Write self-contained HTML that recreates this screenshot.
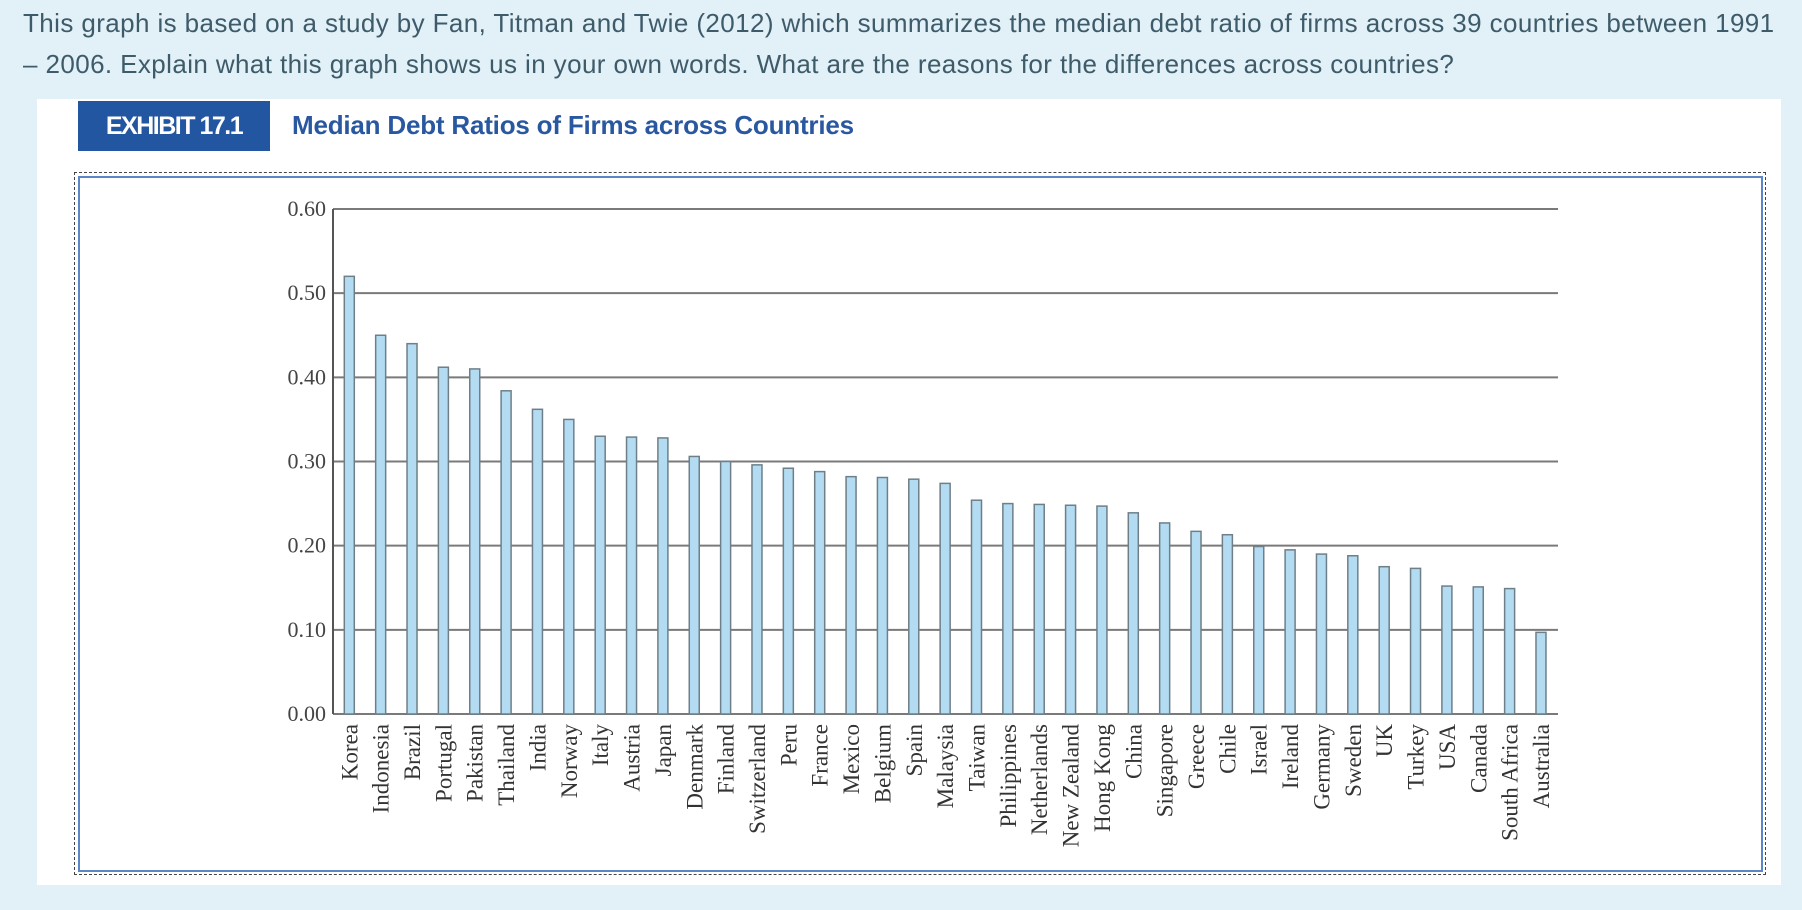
<!DOCTYPE html>
<html><head><meta charset="utf-8"><style>
body{margin:0;width:1802px;height:910px;background:#e2f0f7;position:relative;overflow:hidden;font-family:"Liberation Sans",sans-serif}
.q{position:absolute;left:23px;color:#3e5b6a;font-size:26px;letter-spacing:0.4px;line-height:1;white-space:nowrap}
</style></head><body>
<div class="q" style="top:10px">This graph is based on a study by Fan, Titman and Twie (2012) which summarizes the median debt ratio of firms across 39 countries between 1991</div>
<div class="q" style="top:51px">– 2006. Explain what this graph shows us in your own words. What are the reasons for the differences across countries?</div>
<div style="position:absolute;left:37px;top:99px;width:1744px;height:786px;background:#fff"></div>
<div style="position:absolute;left:78px;top:101px;width:192px;height:50px;background:#2356a0;color:#fff;font-size:25px;font-weight:bold;letter-spacing:-1.5px;line-height:50px;text-align:center">EXHIBIT 17.1</div>
<div style="position:absolute;left:292px;top:110px;color:#2a58a0;font-size:26px;font-weight:bold;letter-spacing:-0.2px">Median Debt Ratios of Firms across Countries</div>
<div style="position:absolute;left:74px;top:172px;width:1690px;height:701px;border:1.5px dashed #444"></div>
<div style="position:absolute;left:78px;top:176px;width:1681px;height:692px;border:2px solid #5b86c8"></div>
<svg id="chart" width="1802" height="910" style="position:absolute;left:0;top:0"></svg>
<script>
const categories=["Korea","Indonesia","Brazil","Portugal","Pakistan","Thailand","India","Norway","Italy","Austria","Japan","Denmark","Finland","Switzerland","Peru","France","Mexico","Belgium","Spain","Malaysia","Taiwan","Philippines","Netherlands","New Zealand","Hong Kong","China","Singapore","Greece","Chile","Israel","Ireland","Germany","Sweden","UK","Turkey","USA","Canada","South Africa","Australia"];
const values=[0.52,0.45,0.44,0.412,0.41,0.384,0.362,0.35,0.33,0.329,0.328,0.306,0.30,0.296,0.292,0.288,0.282,0.281,0.279,0.274,0.254,0.25,0.249,0.248,0.247,0.239,0.227,0.217,0.213,0.199,0.195,0.19,0.188,0.175,0.173,0.152,0.151,0.149,0.097];
const ticks=[0,0.1,0.2,0.3,0.4,0.5,0.6];
const tickLabels=["0.00","0.10","0.20","0.30","0.40","0.50","0.60"];
const NS="http://www.w3.org/2000/svg",svg=document.getElementById('chart');
const x0=333,x1=1558,yTop=209,yBot=714,first=349.3,step=31.36,bw=10;
const y=v=>yBot-(v/0.6)*(yBot-yTop);
const xc=i=>first+i*step;
function mk(t,a){const e=document.createElementNS(NS,t);for(const k in a)e.setAttribute(k,a[k]);svg.appendChild(e);return e;}
ticks.forEach((t,i)=>{
  const g=mk('line',{x1:x0,x2:x1,y1:y(t),y2:y(t),stroke:'#7a7a7a','stroke-width':2});
  
  
  const l=mk('text',{x:326,y:y(t)+7,'text-anchor':'end','font-family':'Liberation Serif,serif','font-size':22,fill:'#444'});
  l.textContent=tickLabels[i];
  
  
});
const ax=mk('line',{x1:x0,x2:x0,y1:yTop,y2:yBot,stroke:'#555','stroke-width':2});


values.forEach((v,i)=>{
  const r=mk('rect',{x:xc(i)-bw/2,y:y(v),width:bw,height:yBot-y(v),fill:'#b3dcf3',stroke:'#6e7f88','stroke-width':1.5});
  
  
  const t=mk('text',{transform:`translate(${xc(i)+8},724) rotate(-90)`,'text-anchor':'end','font-family':'Liberation Serif,serif','font-size':23,fill:'#333'});
  t.textContent=categories[i];
  
  
});
</script>
</body></html>
